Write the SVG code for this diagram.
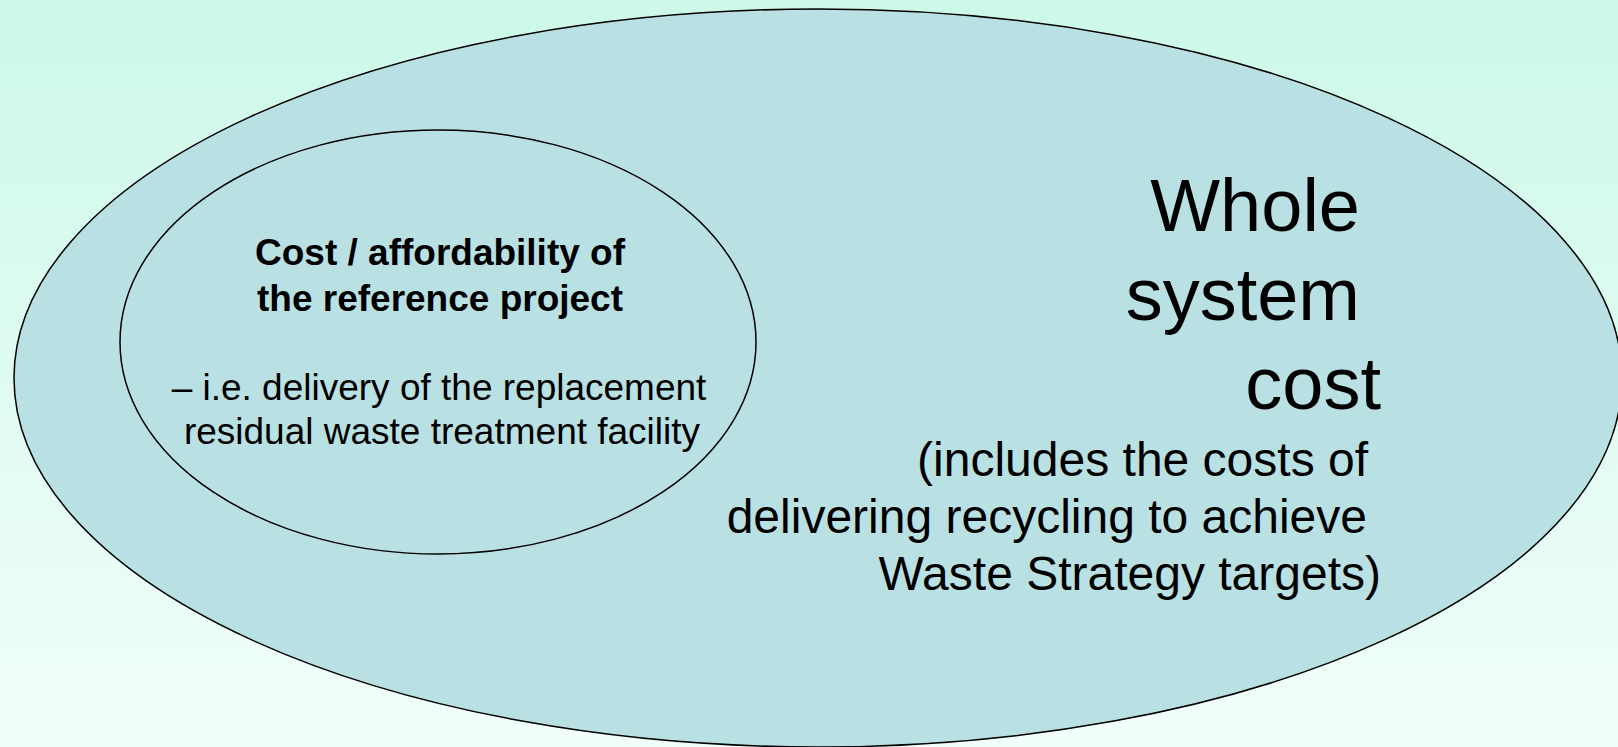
<svg xmlns="http://www.w3.org/2000/svg" width="1618" height="747" viewBox="0 0 1618 747">
  <defs>
    <linearGradient id="bg" x1="0" y1="0" x2="0" y2="1">
      <stop offset="0" stop-color="#ccf9e8"/>
      <stop offset="1" stop-color="#f2fefa"/>
    </linearGradient>
  </defs>
  <style>
    .shape { fill: #b9e0e3; stroke: #000; stroke-width: 1.5; }
    .txt { font-family: "Liberation Sans", Arial, sans-serif; fill: #000; }
    .inner { font-size: 37px; text-anchor: middle; }
    .bold { font-weight: bold; }
    .big { font-size: 74px; text-anchor: end; }
    .sub { font-size: 48px; text-anchor: end; }
  </style>

  <!-- background -->
  <rect x="0" y="0" width="1618" height="747" fill="url(#bg)"/>

  <!-- outer set: whole system cost -->
  <g id="whole-system">
    <ellipse class="shape" cx="818" cy="378" rx="804" ry="369"/>
    <text class="txt big" x="1360" y="231">Whole</text>
    <text class="txt big" x="1360" y="320">system</text>
    <text class="txt big" x="1381" y="409">cost</text>
    <text class="txt sub" x="1368" y="476">(includes the costs of</text>
    <text class="txt sub" x="1367" y="533">delivering recycling to achieve</text>
    <text class="txt sub" x="1381" y="590">Waste Strategy targets)</text>
  </g>

  <!-- inner set: reference project -->
  <g id="reference-project">
    <ellipse class="shape" cx="438" cy="342" rx="318" ry="212"/>
    <text class="txt inner bold" x="440" y="265">Cost / affordability of</text>
    <text class="txt inner bold" x="440" y="311">the reference project</text>
    <text class="txt inner" x="439" y="400">– i.e. delivery of the replacement</text>
    <text class="txt inner" x="442" y="444">residual waste treatment facility</text>
  </g>
</svg>
